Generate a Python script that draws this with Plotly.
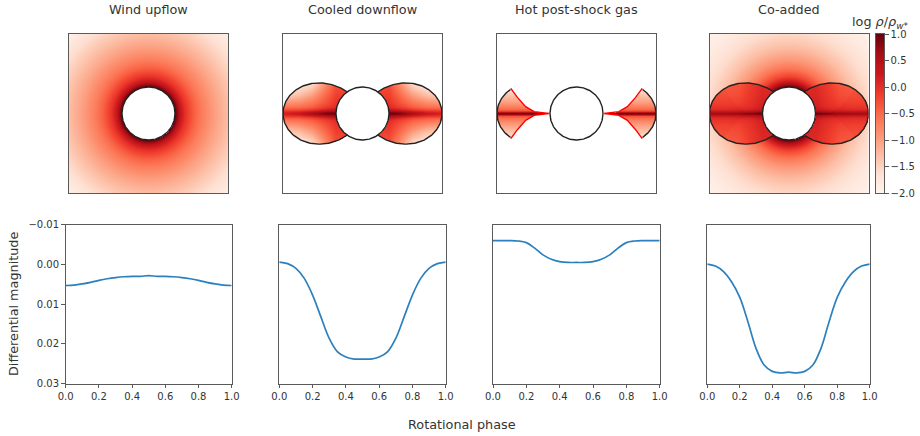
import numpy as np
import plotly.graph_objects as go

W, H = 920, 436

# ---------- light-curve values ----------
phase = [0.0, 0.05, 0.1, 0.15, 0.2, 0.25, 0.3, 0.35, 0.4, 0.45, 0.5,
         0.55, 0.6, 0.65, 0.7, 0.75, 0.8, 0.85, 0.9, 0.95, 1.0]
wind_mag = [0.0053, 0.0052, 0.0049, 0.0045, 0.0040, 0.0036, 0.0033, 0.0031, 0.0030, 0.0030, 0.0028,
            0.0030, 0.0030, 0.0031, 0.0033, 0.0036, 0.0040, 0.0045, 0.0049, 0.0052, 0.0053]
cool_mag = [-0.0006, -0.0002, 0.0010, 0.0035, 0.0077, 0.0132, 0.0186, 0.0220, 0.0233, 0.0238, 0.0238,
            0.0238, 0.0233, 0.0220, 0.0186, 0.0132, 0.0077, 0.0035, 0.0010, -0.0002, -0.0006]
hot_mag = [-0.0060, -0.0060, -0.0060, -0.0059, -0.0055, -0.0041, -0.0024, -0.0013, -0.0007, -0.0005, -0.0005,
           -0.0005, -0.0007, -0.0013, -0.0024, -0.0041, -0.0055, -0.0059, -0.0060, -0.0060, -0.0060]
coadd_mag = [-0.0001, 0.0004, 0.0018, 0.0044, 0.0083, 0.0144, 0.0211, 0.0253, 0.0269, 0.0273, 0.0271,
             0.0273, 0.0269, 0.0253, 0.0211, 0.0144, 0.0083, 0.0044, 0.0018, 0.0004, -0.0001]

titles = ["Wind upflow", "Cooled downflow", "Hot post-shock gas", "Co-added"]
phase_ticks = [0.0, 0.2, 0.4, 0.6, 0.8, 1.0]
mag_ticks = [-0.01, 0.0, 0.01, 0.02, 0.03]
mag_labels = ["\u22120.01", "0.00", "0.01", "0.02", "0.03"]
cbar_ticks = [-2.0, -1.5, -1.0, -0.5, 0.0, 0.5, 1.0]

# ---------- density look-up tables (log rho) ----------
wind_r = [1.0, 1.08, 1.2, 1.4, 1.7, 2.0, 2.5, 3.0, 3.6, 4.3]
wind_z = [1.0, 0.75, 0.3, -0.05, -0.4, -0.67, -1.0, -1.28, -1.6, -1.92]
coadd_wind_z = [1.0, 0.7, 0.25, -0.2, -0.62, -0.92, -1.28, -1.55, -1.78, -1.95]

lobe_x = [1.0, 1.4, 1.9, 2.4, 3.0]
lobe_y = [0.0, 0.04, 0.1, 0.16, 0.25, 0.4, 0.7, 1.2]
cool_z = [[1.0, 0.9, 0.6, 0.3, 0.15],
          [0.9, 0.75, 0.45, 0.2, 0.1],
          [0.55, 0.4, 0.15, -0.05, -0.1],
          [0.3, 0.1, -0.15, -0.3, -0.35],
          [0.05, -0.15, -0.4, -0.55, -0.6],
          [-0.05, -0.3, -0.6, -0.8, -0.9],
          [-0.15, -0.5, -1.0, -1.3, -1.5],
          [-0.3, -0.9, -1.7, -1.9, -2.0]]
coadd_lobe_z = [[1.0, 0.85, 0.7, 0.65, 0.65],
                [0.85, 0.65, 0.5, 0.45, 0.45],
                [0.5, 0.35, 0.2, 0.15, 0.15],
                [0.3, 0.15, 0.05, 0.0, 0.0],
                [0.2, 0.05, -0.05, -0.1, -0.1],
                [0.15, 0.0, -0.15, -0.2, -0.2],
                [0.1, -0.05, -0.25, -0.3, -0.3],
                [0.05, -0.1, -0.35, -0.4, -0.4]]
hot_y = [0.0, 0.03, 0.06, 0.1, 0.2, 0.4, 0.7, 1.0]
hot_z = [1.0, 0.7, 0.2, -0.3, -0.6, -0.95, -1.35, -1.8]

# shock front (x, y), stellar radii
shock_x = [1.05, 1.3, 1.6, 1.92, 2.23, 2.48]
shock_y = [0.0, 0.02, 0.07, 0.26, 0.61, 0.95]

reds = [[0, "#fff5f0"], [0.125, "#fee0d2"], [0.25, "#fcbba1"], [0.375, "#fc9272"], [0.5, "#fb6a4a"],
        [0.625, "#ef3b2c"], [0.75, "#cb181d"], [0.875, "#a50f15"], [1, "#67000d"]]

LINE = "#5a5a5a"
TXT = "#333333"
FONT = "DejaVu Sans"

# ---------- panel geometry in pixels ----------
top_px = [(69, 228), (283, 442), (497, 656), (709.5, 868.5)]
top_y = (34, 193)
bot_px = [(65.7, 231.7), (279.3, 445.7), (493, 659.7), (707.3, 869.7)]
bot_y = (224.7, 383.7)
cbar_px = (876, 884)


def dom_x(a):
    return [a[0] / W, a[1] / W]


def dom_y(a):
    return [1 - a[1] / H, 1 - a[0] / H]


# ---------- grid ----------
grid = np.linspace(-3, 3, 320)
X, Y = np.meshgrid(grid, grid)
R = np.hypot(X, Y)
star = R < 1
lobe = R < 3 * X**2 / np.maximum(R, 1e-9) ** 2


def table(xs, ys, zz):
    """Bilinear look-up of a read-off table at |X|, |Y|."""
    zz = np.asarray(zz, float)
    ax, ay = np.abs(X), np.abs(Y)
    cols = np.array([np.interp(ay, ys, zz[:, j]) for j in range(zz.shape[1])])
    i = np.clip(np.searchsorted(xs, ax) - 1, 0, len(xs) - 2)
    xs = np.asarray(xs, float)
    t = np.clip((ax - xs[i]) / (xs[i + 1] - xs[i]), 0, 1)
    ii, jj = np.indices(ax.shape)
    return cols[i, ii, jj] * (1 - t) + cols[i + 1, ii, jj] * t


shock = lobe & (np.abs(Y) < np.interp(np.abs(X), shock_x, shock_y)) & (np.abs(X) > shock_x[0])

z_wind = np.interp(R, wind_r, wind_z)
z_wind[star] = np.nan

z_cool = table(lobe_x, lobe_y, cool_z)
z_cool[~lobe | star] = np.nan

z_hot = np.interp(np.abs(Y), hot_y, hot_z)
z_hot[~shock | star] = np.nan

z_co = np.interp(R, wind_r, coadd_wind_z)
z_lobe = table(lobe_x, lobe_y, coadd_lobe_z)
z_co[lobe] = z_lobe[lobe]
z_co[shock] += 0.05
z_co[star] = np.nan

# ---------- outlines (dipole loop of apex 3 R*, star of radius 1) ----------
theta = np.linspace(0, 2 * np.pi, 240)
star_x, star_y = np.cos(theta), np.sin(theta)
lam = np.linspace(-np.pi / 2, np.pi / 2, 240)
loop_x = 3 * np.cos(lam) ** 3
loop_y = 3 * np.cos(lam) ** 2 * np.sin(lam)
keep = np.hypot(loop_x, loop_y) >= 1
arc = (loop_x > shock_x[-1]) & keep

fig = go.Figure()
mags = [wind_mag, cool_mag, hot_mag, coadd_mag]
zs = [z_wind, z_cool, z_hot, z_co]


def outline(xs, ys, col, ax, width=1.4):
    fig.add_trace(go.Scatter(x=xs, y=ys, mode="lines", line=dict(color=col, width=width),
                             xaxis=f"x{ax}", yaxis=f"y{ax}", showlegend=False, hoverinfo="skip"))


frame = dict(showline=True, linecolor=LINE, linewidth=1.2, mirror=True, showgrid=False, zeroline=False)
tickfont = dict(family=FONT, size=10, color=TXT)
labelfont = dict(family=FONT, size=12.8, color=TXT)

for k in range(4):
    t = 2 * k + 1
    b = 2 * k + 2
    fig.add_trace(go.Heatmap(x=grid, y=grid, z=zs[k], coloraxis="coloraxis",
                             xaxis=f"x{t}", yaxis=f"y{t}", hoverinfo="skip"))
    outline(star_x, star_y, "#222222", t)
    if k in (1, 3):
        for s in (1, -1):
            xs = np.where(keep, s * loop_x, np.nan)
            ys = np.where(keep, loop_y, np.nan)
            outline(xs, ys, "#222222", t)
    if k == 2:
        for s in (1, -1):
            outline(s * loop_x[arc], loop_y[arc], "#222222", t)
            for v in (1, -1):
                outline(s * np.array(shock_x), v * np.array(shock_y), "#ff0000", t)
    fig.add_trace(go.Scatter(x=phase, y=mags[k], mode="lines", showlegend=False,
                             line=dict(color="#2b80bd", width=1.7, shape="spline", smoothing=1.0),
                             xaxis=f"x{b}", yaxis=f"y{b}", hoverinfo="skip"))

    fig.layout[f"xaxis{t}"] = dict(domain=dom_x(top_px[k]), range=[-3, 3], showticklabels=False,
                                   ticks="", anchor=f"y{t}", **frame)
    fig.layout[f"yaxis{t}"] = dict(domain=dom_y(top_y), range=[-3, 3], showticklabels=False,
                                   ticks="", anchor=f"x{t}", **frame)
    fig.layout[f"xaxis{b}"] = dict(domain=dom_x(bot_px[k]), range=[0, 1], tickvals=phase_ticks,
                                   ticktext=[f"{v:.1f}" for v in phase_ticks], ticks="outside",
                                   ticklen=3.5, tickwidth=1, tickcolor=LINE, anchor=f"y{b}",
                                   tickfont=tickfont, **frame)
    fig.layout[f"yaxis{b}"] = dict(domain=dom_y(bot_y), range=[0.03, -0.01], tickvals=mag_ticks if k == 0 else [],
                                   ticktext=mag_labels if k == 0 else [], ticks="outside" if k == 0 else "",
                                   ticklen=3.5, tickwidth=1, tickcolor=LINE, anchor=f"x{b}",
                                   tickfont=tickfont, **frame)
    fig.add_annotation(text=titles[k], x=sum(top_px[k]) / 2 / W, y=1 - 10 / H, xref="paper", yref="paper",
                       showarrow=False, xanchor="center", yanchor="middle", font=labelfont)

# colour bar drawn as its own thin heatmap panel
cbar_levels = np.linspace(-2, 1, 256)
fig.add_trace(go.Heatmap(x=[0, 1], y=cbar_levels, z=np.column_stack([cbar_levels, cbar_levels]),
                         coloraxis="coloraxis", xaxis="x9", yaxis="y9", hoverinfo="skip"))
fig.layout["xaxis9"] = dict(domain=dom_x(cbar_px), range=[0, 1], showticklabels=False, ticks="",
                            anchor="y9", **frame)
fig.layout["yaxis9"] = dict(domain=dom_y(top_y), range=[-2, 1], side="right", anchor="x9",
                            tickvals=cbar_ticks,
                            ticktext=[f"{v:.1f}".replace("-", "\u2212") for v in cbar_ticks],
                            ticks="outside", ticklen=3.5, tickwidth=1, tickcolor=LINE,
                            tickfont=tickfont, **frame)

fig.add_annotation(text="Rotational phase", x=462 / W, y=1 - 424 / H, xref="paper", yref="paper",
                   showarrow=False, xanchor="center", yanchor="middle", font=labelfont)
fig.add_annotation(text="Differential magnitude", x=13 / W, y=1 - 304 / H, xref="paper", yref="paper",
                   showarrow=False, textangle=-90, xanchor="center", yanchor="middle", font=labelfont)
fig.add_annotation(text="log <i>\u03c1</i>/<i>\u03c1<sub>w*</sub></i>", x=880 / W, y=1 - 22 / H, xref="paper", yref="paper",
                   showarrow=False, xanchor="center", yanchor="middle", font=labelfont)

fig.update_layout(
    width=W, height=H, autosize=False, margin=dict(l=0, r=0, t=0, b=0, autoexpand=False),
    paper_bgcolor="white", plot_bgcolor="white", showlegend=False,
    coloraxis=dict(cmin=-2, cmax=1, colorscale=reds, showscale=False),
)

fig.write_html("out.html", config={"displayModeBar": False},
               post_script="document.body.style.margin='0';")
